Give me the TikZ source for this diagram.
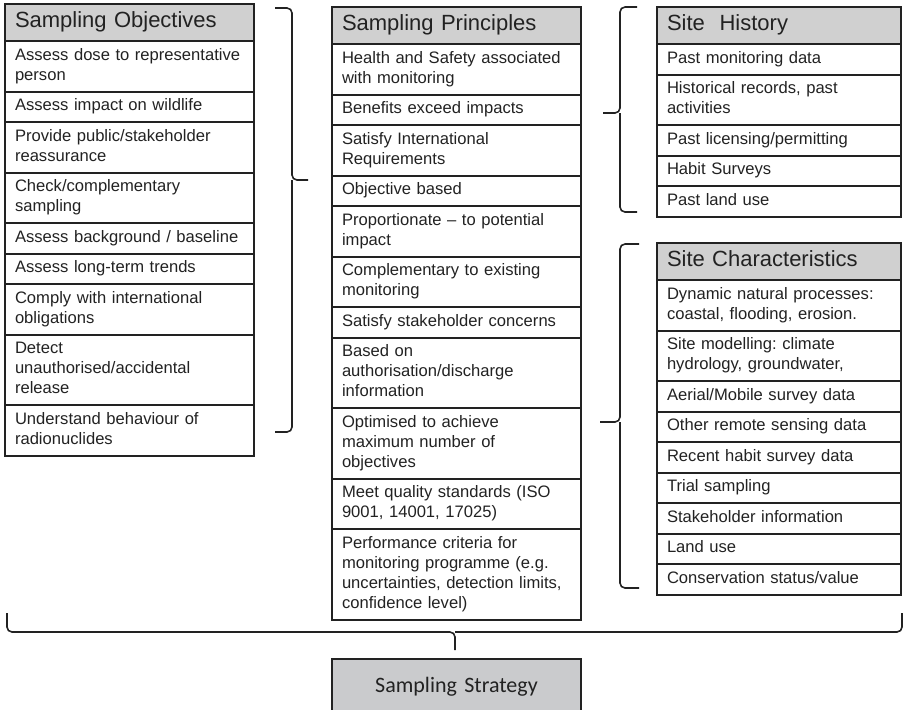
\documentclass[tikz,border=0pt]{standalone}
\usepackage{fontspec}
\setmainfont{Liberation Sans}
\newfontfamily\strategyfont{Carlito}
\usepackage{tikz}
\usetikzlibrary{
    positioning
}
\frenchspacing
\definecolor{ink}{HTML}{222222}
\definecolor{headgray}{HTML}{D0D0D0}
\definecolor{stratgray}{HTML}{CACBCD}
\tikzset{
    item/.style={draw=ink, line width=1pt, outer sep=0pt, text=ink,
        text width=114.5pt, inner xsep=5pt, inner ysep=2.625pt, align=left,
        font=\fontsize{8.3}{10}\selectfont,
        execute at begin node=\strut, execute at end node=\strut},
    heading/.style={item, fill=headgray, inner ysep=2.75pt,
        font=\fontsize{11}{13}\selectfont},
    side/.style={text width=112pt},
    bracket/.style={draw=ink, line width=0.8pt, rounded corners=2.5pt},
    goal/.style={draw=ink, line width=1pt, outer sep=0pt, fill=stratgray,
        text=ink, text width=114.5pt, inner xsep=5pt, minimum height=27.5pt,
        align=center, font=\strategyfont\fontsize{11}{13}\selectfont}
}
\begin{document}
\begin{tikzpicture}[x=0.5pt, y=-0.5pt]
\useasboundingbox (0,0) rectangle (903,709);
% objectives
\node[heading, anchor=north west] (objhead) at (5,4) {Sampling Objectives};
\node[item, below=0pt of objhead] (obj1) {Assess dose to representative\\person};
\node[item, below=0pt of obj1] (obj2) {Assess impact on wildlife};
\node[item, below=0pt of obj2] (obj3) {Provide public/stakeholder\\reassurance};
\node[item, below=0pt of obj3] (obj4) {Check/complementary\\sampling};
\node[item, below=0pt of obj4] (obj5) {Assess background / baseline};
\node[item, below=0pt of obj5] (obj6) {Assess long-term trends};
\node[item, below=0pt of obj6] (obj7) {Comply with international\\obligations};
\node[item, below=0pt of obj7] (obj8) {Detect\\unauthorised/accidental\\release};
\node[item, below=0pt of obj8] (obj9) {Understand behaviour of\\radionuclides};
% principles
\node[heading, anchor=north west] (prinhead) at (332,7) {Sampling Principles};
\node[item, below=0pt of prinhead] (prin1) {Health and Safety associated\\with monitoring};
\node[item, below=0pt of prin1] (prin2) {Benefits exceed impacts};
\node[item, below=0pt of prin2] (prin3) {Satisfy International\\Requirements};
\node[item, below=0pt of prin3] (prin4) {Objective based};
\node[item, below=0pt of prin4] (prin5) {Proportionate -- to potential\\impact};
\node[item, below=0pt of prin5] (prin6) {Complementary to existing\\monitoring};
\node[item, below=0pt of prin6] (prin7) {Satisfy stakeholder concerns};
\node[item, below=0pt of prin7] (prin8) {Based on\\authorisation/discharge\\information};
\node[item, below=0pt of prin8] (prin9) {Optimised to achieve\\maximum number of\\objectives};
\node[item, below=0pt of prin9] (prin10) {Meet quality standards (ISO\\9001, 14001, 17025)};
\node[item, below=0pt of prin10] (prin11) {Performance criteria for\\monitoring programme (e.g.\\uncertainties, detection limits,\\confidence level)};
% site history
\node[heading, side, anchor=north west] (histhead) at (657,7) {Site\ \ History};
\node[item, side, below=0pt of histhead] (hist1) {Past monitoring data};
\node[item, side, below=0pt of hist1] (hist2) {Historical records, past\\activities};
\node[item, side, below=0pt of hist2] (hist3) {Past licensing/permitting};
\node[item, side, below=0pt of hist3] (hist4) {Habit Surveys};
\node[item, side, below=0pt of hist4] (hist5) {Past land use};
% site characteristics
\node[heading, side, anchor=north west] (charhead) at (657,243) {Site Characteristics};
\node[item, side, below=0pt of charhead] (char1) {Dynamic natural processes:\\coastal, flooding, erosion.};
\node[item, side, below=0pt of char1] (char2) {Site modelling: climate\\hydrology, groundwater,};
\node[item, side, below=0pt of char2] (char3) {Aerial/Mobile survey data};
\node[item, side, below=0pt of char3] (char4) {Other remote sensing data};
\node[item, side, below=0pt of char4] (char5) {Recent habit survey data};
\node[item, side, below=0pt of char5] (char6) {Trial sampling};
\node[item, side, below=0pt of char6] (char7) {Stakeholder information};
\node[item, side, below=0pt of char7] (char8) {Land use};
\node[item, side, below=0pt of char8] (char9) {Conservation status/value};
% strategy
\node[goal, anchor=north west] (strategy) at (332,659) {Sampling Strategy};
% braces
\coordinate (objtop) at (275,8);
\coordinate (objbot) at (275,432);
\coordinate (objmid) at (292,180);
\coordinate (objtip) at (308,180);
\coordinate (histtop) at (637,7);
\coordinate (histbot) at (637,212);
\coordinate (histmid) at (620,113);
\coordinate (histtip) at (603,113);
\coordinate (chartop) at (639,244);
\coordinate (charbot) at (639,588);
\coordinate (charmid) at (620,422);
\coordinate (chartip) at (600,422);
\coordinate (allleft) at (7,613);
\coordinate (allright) at (902,613);
\coordinate (allmid) at (455,632);
\coordinate (alltip) at (455,650);
\draw[bracket] (objtop) -| (objmid) -- (objtip);
\draw[bracket] (objbot) -| (objmid);
\draw[bracket] (histtop) -| (histmid) -- (histtip);
\draw[bracket] (histbot) -| (histmid);
\draw[bracket] (chartop) -| (charmid) -- (chartip);
\draw[bracket] (charbot) -| (charmid);
\draw[bracket] (allleft) |- (allmid) -- (alltip);
\draw[bracket] (allright) |- (allmid);
\end{tikzpicture}
\end{document}
